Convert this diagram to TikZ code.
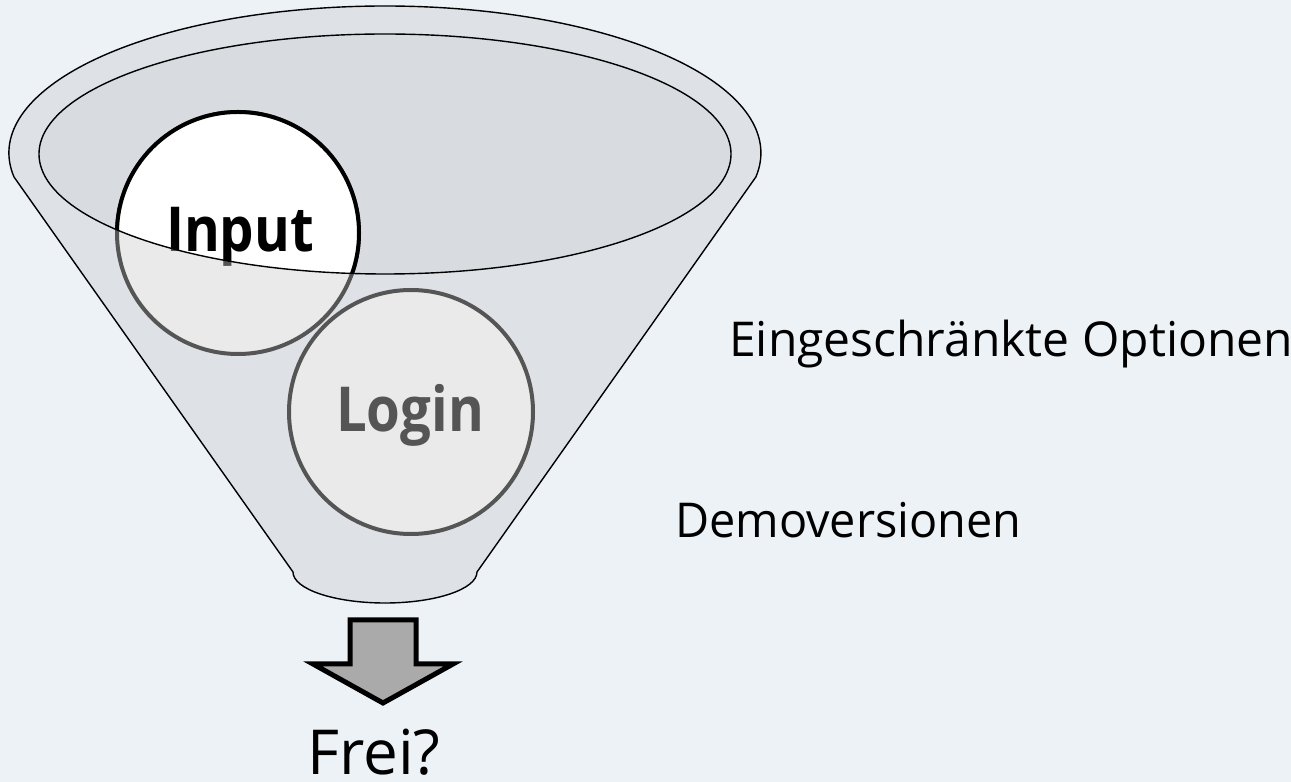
\documentclass[tikz,border=0pt]{standalone}
\usepackage{fontspec}
\setmainfont{Open Sans}
\definecolor{bgc}{RGB}{237,242,247}
\definecolor{funnelc}{RGB}{222,226,230}
\definecolor{innerc}{RGB}{216,219,223}
\definecolor{circc}{RGB}{234,234,234}
\definecolor{darkg}{RGB}{85,85,85}
\definecolor{arrowc}{RGB}{170,170,170}
\newcommand{\narrowtxt}[1]{\scalebox{0.88}[1]{#1}}
\begin{document}
\begin{tikzpicture}[x=1pt,y=1pt,
  outline/.style={draw=black,line width=1.4pt},
  ballgray/.style={draw=darkg,fill=circc,line width=4pt},
  ballwhite/.style={draw=black,fill=white,line width=4pt},
  bigbold/.style={font=\fontsize{62}{70}\selectfont\bfseries,inner sep=0pt,anchor=base},
  label/.style={font=\fontsize{48}{56}\selectfont,inner sep=0pt,anchor=base west}]
\fill[bgc] (0,0) rectangle (1291,782);
\useasboundingbox (0,0) rectangle (1291,782);
% funnel body
\path[outline,fill=funnelc] (14,605)
  arc[start angle=189.4,end angle=-9.4,x radius=376pt,y radius=147pt]
  -- (477,210)
  arc[start angle=0,end angle=-180,x radius=92pt,y radius=31pt]
  -- cycle;
% inner opening
\fill[innerc] (385,628) ellipse[x radius=346pt,y radius=120pt];
% circles
\coordinate (inc) at (238,549);
\coordinate (loc) at (411,370);
\draw[ballgray] (inc) circle (121pt);
\node[bigbold,text=darkg] (inputgray) at (240,530) {\narrowtxt{Input}};
\begin{scope}
  \clip (385,628) ellipse[x radius=346pt,y radius=120pt];
  \draw[ballwhite] (inc) circle (121pt);
  \node[bigbold,text=black] (input) at (240,530) {\narrowtxt{Input}};
\end{scope}
\draw[outline] (385,628) ellipse[x radius=346pt,y radius=120pt];
\draw[ballgray] (loc) circle (122pt);
\node[bigbold,text=darkg] (login) at (410,350) {\narrowtxt{Login}};
% labels
\node[label] (opt) at (729,425) {Eingeschränkte Optionen};
\node[label] (demo) at (675,244) {\scalebox{0.975}[1]{Demoversionen}};
% arrow
\draw[line width=5pt,fill=arrowc,line join=miter] (350,162) -- (416,162) -- (416,118) -- (453,118)
  -- (383,79) -- (313,118) -- (350,118) -- cycle;
\node[font=\fontsize{62}{70}\selectfont,inner sep=0pt,anchor=base] (frei) at (374,7) {Frei?};
\end{tikzpicture}
\end{document}
